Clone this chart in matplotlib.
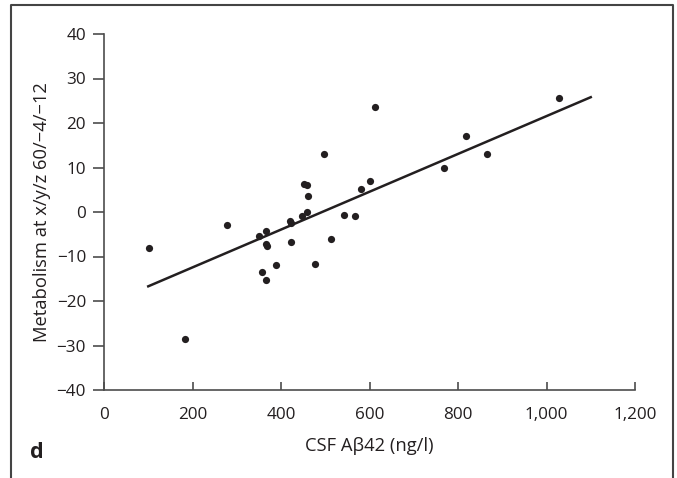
import matplotlib
matplotlib.use("Agg")
import matplotlib.pyplot as plt
from matplotlib.lines import Line2D

# Data
csf_abeta42 = [101, 184, 279, 350, 365, 366, 369, 357, 367, 389, 420, 422, 423,
               447, 458, 462, 452, 459, 477, 514, 542, 568, 580, 600, 497, 612,
               769, 819, 866, 1028]
metabolism = [-8.2, -28.6, -2.9, -5.4, -4.2, -7.2, -7.7, -13.5, -15.3, -11.8,
              -2.0, -2.5, -6.8, -1.0, -0.1, 3.7, 6.4, 6.0, -11.6, -6.1, -0.6,
              -1.0, 5.1, 7.0, 13.1, 23.5, 9.8, 17.1, 13.1, 25.7]
fit_x = [100, 1100]
fit_y = [-16.7, 25.8]

x_ticks = [0, 200, 400, 600, 800, 1000, 1200]
x_ticklabels = ["0", "200", "400", "600", "800", "1,000", "1,200"]
y_ticks = [-40, -30, -20, -10, 0, 10, 20, 30, 40]
y_ticklabels = ["\u221240", "\u221230", "\u221220", "\u221210", "0", "10", "20", "30", "40"]

plt.rcParams['font.family'] = ['Open Sans', 'DejaVu Sans']

W, H = 677, 478
fig = plt.figure(figsize=(W / 100, H / 100), dpi=100)
ax = fig.add_axes([104 / W, (H - 390) / H, (635 - 104) / W, (390 - 34) / H])

ink = '#231f20'
spine_c = '#4d4d4d'

ax.scatter(csf_abeta42, metabolism, s=27, color=ink, zorder=3, linewidths=0)
ax.plot(fit_x, fit_y, color=ink, lw=1.8, zorder=2)

ax.set_xlim(0, 1200)
ax.set_ylim(-40, 40)
ax.set_xticks(x_ticks)
ax.set_xticklabels(x_ticklabels)
ax.set_yticks(y_ticks)
ax.set_yticklabels(y_ticklabels)

for s in ['top', 'right']:
    ax.spines[s].set_visible(False)
for s in ['left', 'bottom']:
    ax.spines[s].set_color(spine_c)
    ax.spines[s].set_linewidth(1.2)

fs = 12.3
lfs = 13.2
ax.tick_params(axis='x', direction='in', length=6, width=1.2, color=spine_c,
               pad=12.5, labelsize=fs, labelcolor=ink)
ax.tick_params(axis='y', direction='out', length=8, width=1.2, color=spine_c,
               pad=5, labelsize=fs, labelcolor=ink)

ax.set_xlabel("CSF A\u03b242 (ng/l)", fontsize=lfs, color=ink, labelpad=10)
ax.set_ylabel("Metabolism at x/y/z 60/\u22124/\u221212", fontsize=lfs, color=ink, labelpad=4)

fig.text(37 / W, 1 - 452 / H, "d", fontsize=15.5, fontweight='bold', color=ink,
         ha='center', va='center')

# panel frame (open at bottom)
fx = [11 / W, 11 / W, 673 / W, 673 / W]
fy = [0, 1 - 5 / H, 1 - 5 / H, 0]
fig.add_artist(Line2D(fx, fy, transform=fig.transFigure, color='#444444', lw=1.5))

fig.savefig("out.png", dpi=100, facecolor='white')
